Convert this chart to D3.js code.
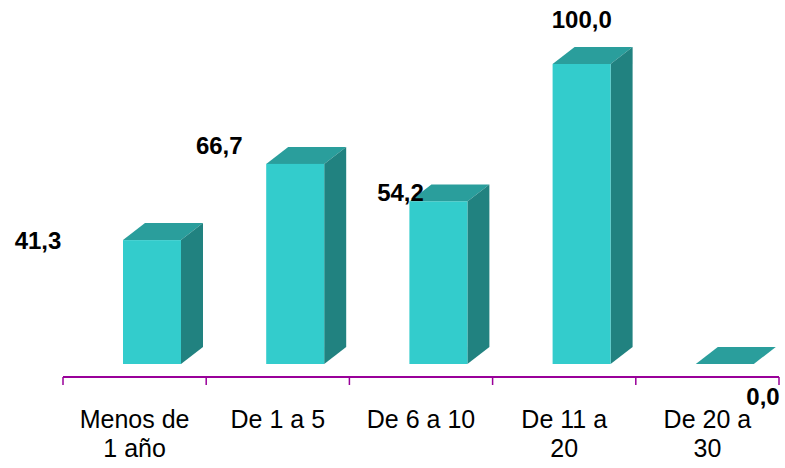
<!DOCTYPE html>
<html>
<head>
<meta charset="utf-8">
<script src="https://cdn.jsdelivr.net/npm/d3@7"></script>
<style>
  body { margin: 0; background: #fff; }
  svg { display: block; }
</style>
</head>
<body>
<svg width="785" height="468"></svg>
<script>
// datos del grafico
var categories = [["Menos de", "1 año"], ["De 1 a 5"], ["De 6 a 10"], ["De 11 a", "20"], ["De 20 a", "30"]];
var values = [41.3, 66.7, 54.2, 100.0, 0.0];
var labels = ["41,3", "66,7", "54,2", "100,0", "0,0"];

var svg = d3.select("svg");

var x = d3.scaleBand()
    .domain(d3.range(categories.length))
    .range([63, 779]);

var y = d3.scaleLinear()
    .domain([0, 100])
    .range([364, 64]);

// posiciones de etiquetas de valor (como en el original)
var lx = d3.scaleLinear().domain([0, categories.length - 1]).range([38, 763]);
var ly = d3.scaleLinear().domain([0, 100]).range([405, 28]);

var barOffset = 60, barW = 58, dx = 22, dy = 17;
var colFront = "#33CCCC", colTop = "#2A9E9C", colSide = "#218280";

var bars = svg.append("g").selectAll("g")
    .data(values)
    .enter().append("g");

bars.each(function (v, i) {
    var g = d3.select(this);
    var x0 = x(i) + barOffset, x1 = x0 + barW;
    var yt = y(v), yb = y(0);
    // cara superior
    g.append("polygon")
        .attr("points", [[x0, yt], [x0 + dx, yt - dy], [x1 + dx, yt - dy], [x1, yt]].join(" "))
        .attr("fill", colTop);
    if (v > 0) {
        // cara lateral
        g.append("polygon")
            .attr("points", [[x1, yt], [x1 + dx, yt - dy], [x1 + dx, yb - dy], [x1, yb]].join(" "))
            .attr("fill", colSide);
        // cara frontal
        g.append("rect")
            .attr("x", x0).attr("y", yt)
            .attr("width", barW).attr("height", yb - yt)
            .attr("fill", colFront);
    }
});

// eje
var axisY = 377;
svg.append("line")
    .attr("x1", 63).attr("x2", 779)
    .attr("y1", axisY).attr("y2", axisY)
    .attr("stroke", "#990099").attr("stroke-width", 2);

svg.append("g").selectAll("line")
    .data(d3.range(categories.length + 1))
    .enter().append("line")
    .attr("x1", function (d) { return 63 + d * x.bandwidth(); })
    .attr("x2", function (d) { return 63 + d * x.bandwidth(); })
    .attr("y1", axisY).attr("y2", axisY + 8)
    .attr("stroke", "#990099").attr("stroke-width", 1.5);

// etiquetas de categorias
var cat = svg.append("g").selectAll("text")
    .data(categories)
    .enter().append("text")
    .attr("x", function (d, i) { return x(i) + x.bandwidth() / 2; })
    .attr("y", 428)
    .attr("text-anchor", "middle")
    .style("font-family", "Arial, 'Liberation Sans', sans-serif")
    .style("font-size", "25px")
    .attr("fill", "#000");

cat.selectAll("tspan")
    .data(function (d) { return d; })
    .enter().append("tspan")
    .attr("x", function () { return d3.select(this.parentNode).attr("x"); })
    .attr("dy", function (d, j) { return j === 0 ? 0 : 29; })
    .text(function (d) { return d; });

// etiquetas de valores
svg.append("g").selectAll("text")
    .data(values)
    .enter().append("text")
    .attr("x", function (d, i) { return lx(i); })
    .attr("y", function (d) { return ly(d); })
    .attr("text-anchor", "middle")
    .style("font-family", "Arial, 'Liberation Sans', sans-serif")
    .style("font-size", "24px")
    .style("font-weight", "bold")
    .attr("fill", "#000")
    .text(function (d, i) { return labels[i]; });
</script>
</body>
</html>
